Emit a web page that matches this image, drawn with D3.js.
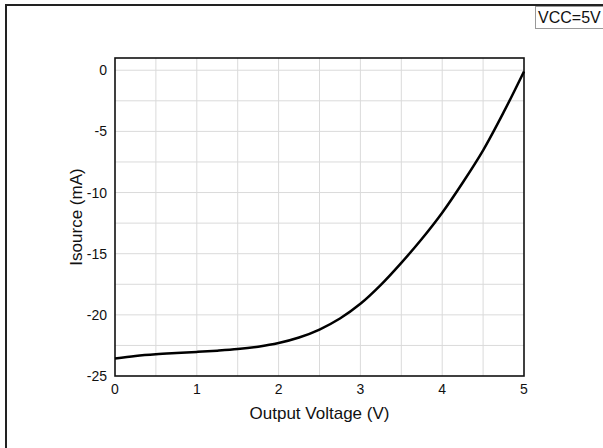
<!DOCTYPE html>
<html>
<head>
<meta charset="utf-8">
<script src="https://cdn.jsdelivr.net/npm/d3@7"></script>
<style>
  html, body { margin: 0; padding: 0; background: #fff; }
  svg { display: block; }
  text { font-family: "Liberation Sans", Arial, sans-serif; fill: #111; }
</style>
</head>
<body>
<script>
// ---- data ----
const voltage = [0, 0.25, 0.5, 0.75, 1.0, 1.25, 1.5, 1.75, 2.0, 2.25, 2.5, 2.75, 3.0, 3.25, 3.5, 3.75, 4.0, 4.25, 4.5, 4.75, 5.0];
const isource = [-23.56, -23.36, -23.22, -23.12, -23.03, -22.93, -22.80, -22.60, -22.30, -21.85, -21.20, -20.30, -19.10, -17.55, -15.75, -13.80, -11.65, -9.20, -6.55, -3.45, -0.10];
const xTicks = [0, 1, 2, 3, 4, 5];
const yTicks = [0, -5, -10, -15, -20, -25];
const xGrid = [0.5, 1, 1.5, 2, 2.5, 3, 3.5, 4, 4.5];
const yGrid = [0, -2.5, -5, -7.5, -10, -12.5, -15, -17.5, -20, -22.5];
const xLabel = "Output Voltage (V)";
const yLabel = "Isource (mA)";
const note = "VCC=5V";

const W = 603, H = 448;
const plot = { left: 115, right: 524, top: 58, bottom: 376 };

const svg = d3.select("body").append("svg").attr("width", W).attr("height", H);

// outer frame
svg.append("rect").attr("x", 6).attr("y", 5).attr("width", 800).attr("height", 600)
  .attr("fill", "none").attr("stroke", "#222").attr("stroke-width", 2);

const x = d3.scaleLinear().domain([0, 5]).range([plot.left, plot.right]);
const y = d3.scaleLinear().domain([-25, 1]).range([plot.bottom, plot.top]);

// grid
svg.append("g").selectAll("line").data(xGrid).join("line")
  .attr("x1", d => x(d)).attr("x2", d => x(d))
  .attr("y1", plot.top).attr("y2", plot.bottom)
  .attr("stroke", "#dadada").attr("stroke-width", 1);
svg.append("g").selectAll("line").data(yGrid).join("line")
  .attr("x1", plot.left).attr("x2", plot.right)
  .attr("y1", d => y(d)).attr("y2", d => y(d))
  .attr("stroke", "#dadada").attr("stroke-width", 1);

// plot border
svg.append("rect").attr("x", plot.left).attr("y", plot.top)
  .attr("width", plot.right - plot.left).attr("height", plot.bottom - plot.top)
  .attr("fill", "none").attr("stroke", "#111").attr("stroke-width", 1.6);

// tick labels
svg.append("g").selectAll("text").data(xTicks).join("text")
  .attr("x", d => x(d)).attr("y", 394)
  .attr("text-anchor", "middle").attr("font-size", 14)
  .text(d => d);
svg.append("g").selectAll("text").data(yTicks).join("text")
  .attr("x", 107).attr("y", d => y(d) + 5)
  .attr("text-anchor", "end").attr("font-size", 14)
  .text(d => d);

// axis titles
svg.append("text").attr("x", (plot.left + plot.right) / 2).attr("y", 419)
  .attr("text-anchor", "middle").attr("font-size", 17).text(xLabel);
svg.append("text")
  .attr("transform", `translate(82,${(plot.top + plot.bottom) / 2}) rotate(-90)`)
  .attr("text-anchor", "middle").attr("font-size", 17).text(yLabel);

// curve
const pts = voltage.map((v, i) => [v, isource[i]]);
svg.append("path").datum(pts)
  .attr("fill", "none").attr("stroke", "#000").attr("stroke-width", 2.5)
  .attr("stroke-linejoin", "round")
  .attr("d", d3.line().x(d => x(d[0])).y(d => y(d[1])).curve(d3.curveCatmullRom.alpha(0.5)));

// note box
svg.append("rect").attr("x", 535.5).attr("y", 6.5).attr("width", 90).attr("height", 22)
  .attr("fill", "#fff").attr("stroke", "#999").attr("stroke-width", 1);
svg.append("text").attr("x", 538).attr("y", 23).attr("font-size", 16).text(note);
</script>
</body>
</html>
